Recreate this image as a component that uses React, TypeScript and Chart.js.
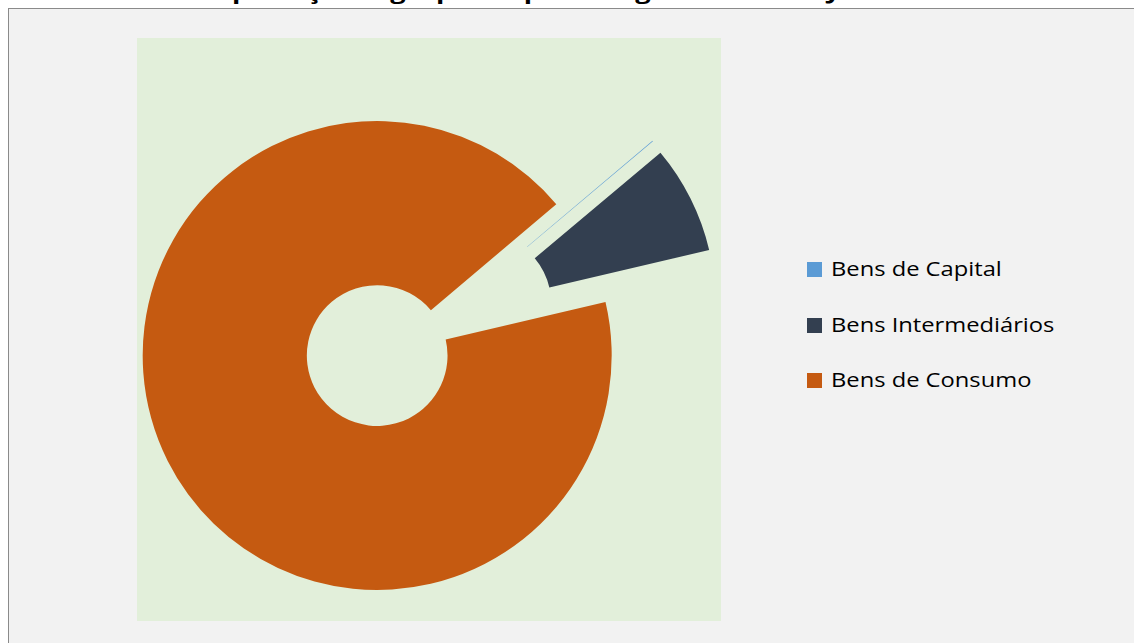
import React, { useEffect, useRef } from "react";
import { Chart, registerables } from "chart.js";

Chart.register(...registerables);

const TITLE = "Gráfico 5 – Importações agrupadas por categoria de uso – Jan. a Dez. de 2014";
const categories = ["Bens de Capital", "Bens Intermediários", "Bens de Consumo"];
const shares = [0.05, 7.45, 92.5];
const colors = ["#5b9bd5", "#333f50", "#c55a11"];

const EXPLODE = 58; // px each slice is pulled out along its bisector

const explodePlugin = {
  id: "explode",
  afterDatasetsUpdate(chart: any) {
    const area = chart.chartArea;
    const cx = (area.left + area.right) / 2;
    const cy = (area.top + area.bottom) / 2;
    const meta = chart.getDatasetMeta(0);
    meta.data.forEach((arc: any) => {
      const mid = (arc.startAngle + arc.endAngle) / 2;
      arc.x = cx + Math.cos(mid) * EXPLODE;
      arc.y = cy + Math.sin(mid) * EXPLODE;
    });
  },
};

export default function App() {
  const canvasRef = useRef<HTMLCanvasElement | null>(null);

  useEffect(() => {
    if (!canvasRef.current) return;
    const chart = new Chart(canvasRef.current, {
      type: "doughnut",
      data: {
        labels: categories,
        datasets: [
          {
            data: shares,
            backgroundColor: colors,
            borderWidth: 0,
          },
        ],
      },
      options: {
        animation: false,
        responsive: true,
        maintainAspectRatio: false,
        rotation: 49.8,
        cutout: "30%",
        radius: 234.5,
        layout: { padding: 0 },
        plugins: {
          legend: { display: false },
          tooltip: { enabled: false },
        },
      } as any,
      plugins: [explodePlugin],
    });
    return () => chart.destroy();
  }, []);

  const legendFirstBaseline = 276.2;
  const legendStep = 55.2;

  return (
    <div
      style={{
        position: "fixed",
        left: 0,
        top: 0,
        width: "100vw",
        height: "100vh",
        overflow: "hidden",
        background: "#ffffff",
        fontFamily: '"Open Sans", sans-serif',
      }}
    >
      <div
        style={{
          position: "absolute",
          left: 8,
          top: 8,
          width: 1200,
          height: 700,
          background: "#f2f2f2",
          borderLeft: "1px solid #8a8a8a",
          borderTop: "1px solid #8a8a8a",
        }}
      />
      <div
        style={{
          position: "absolute",
          left: 48,
          top: -16.8,
          fontSize: 19,
          lineHeight: "19px",
          fontWeight: 700,
          color: "#000",
          whiteSpace: "pre",
          transform: "scaleX(1.43)",
          transformOrigin: "left top",
        }}
      >
        {TITLE}
      </div>
      <div
        style={{
          position: "absolute",
          left: 137,
          top: 38,
          width: 584,
          height: 583,
          background: "#e2efda",
        }}
      >
        <canvas ref={canvasRef} />
      </div>
      {categories.map((c, i) => {
        const baseline = legendFirstBaseline + i * legendStep;
        return (
          <React.Fragment key={c}>
            <div
              style={{
                position: "absolute",
                left: 807,
                top: baseline - 13.9,
                width: 15,
                height: 15,
                background: colors[i],
              }}
            />
            <div
              style={{
                position: "absolute",
                left: 831,
                top: baseline - 16.8,
                fontSize: 19.6,
                lineHeight: "20px",
                color: "#000",
                whiteSpace: "pre",
                transform: "scaleX(1.21)",
                transformOrigin: "left top",
              }}
            >
              {c}
            </div>
          </React.Fragment>
        );
      })}
    </div>
  );
}
